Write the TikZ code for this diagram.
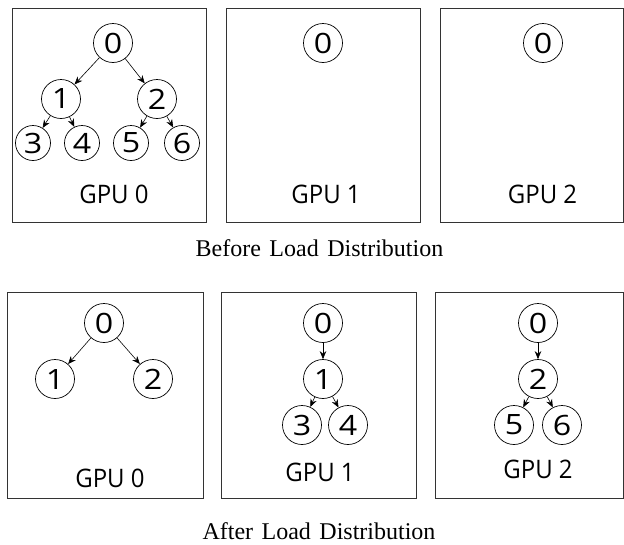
\documentclass[tikz,border=0pt]{standalone}
\usepackage{fontspec}
\setmainfont{Liberation Serif}
\newfontfamily\gpulabfont[FakeStretch=0.94]{Open Sans}
\newfontfamily\digfont[FakeStretch=1.15]{Open Sans}
\usetikzlibrary{arrows.meta}
\newcommand{\capgap}{\hspace{8.5pt}}
\begin{document}
\begin{tikzpicture}[x=1pt,y=-1pt,
  gpubox/.style={draw=black!80,line width=0.9pt},
  tnode/.style={draw,circle,inner sep=0pt,minimum size=39pt,line width=0.7pt,font=\digfont\fontsize{28}{28}\selectfont},
  leaf/.style={tnode,minimum size=35pt},
  gpulabel/.style={anchor=base,inner sep=0pt,font=\gpulabfont\fontsize{25.5}{25.5}\selectfont},
  caption/.style={anchor=base,inner sep=0pt,font=\fontsize{24}{24}\selectfont},
  edge/.style={-{Stealth[length=8pt,width=6.5pt]},line width=0.6pt}]
\useasboundingbox (0,0) rectangle (624,544);
% ---- before ----
\draw[gpubox] (12,8.5) rectangle (206,222.5);
\draw[gpubox] (226,8.5) rectangle (420.5,222.5);
\draw[gpubox] (440.5,8.5) rectangle (623.5,222.5);
\node[tnode] (a0) at (113,43) {0};
\node[tnode] (a1) at (61,99) {1};
\node[tnode] (a2) at (157,99) {2};
\node[leaf] (a3) at (33,143) {3};
\node[leaf] (a4) at (82,143) {4};
\node[leaf] (a5) at (131,143) {5};
\node[leaf] (a6) at (182,143) {6};
\draw[edge] (a0) -- (a1);
\draw[edge] (a0) -- (a2);
\draw[edge] (a1) -- (a3);
\draw[edge] (a1) -- (a4);
\draw[edge] (a2) -- (a5);
\draw[edge] (a2) -- (a6);
\node[gpulabel] (ga) at (114,203) {GPU 0};
\node[tnode] (b0) at (323,43) {0};
\node[gpulabel] (gb) at (326,203) {GPU 1};
\node[tnode] (c0) at (543,43) {0};
\node[gpulabel] (gc) at (542.5,203) {GPU 2};
\node[caption] (cap1) at (319.5,256.7) {Before\capgap Load\capgap Distribution};
% ---- after ----
\draw[gpubox] (7.5,292.7) rectangle (203,498);
\draw[gpubox] (221.7,292.7) rectangle (416,498);
\draw[gpubox] (435,292.7) rectangle (623.5,498);
\node[tnode] (d0) at (104,323) {0};
\node[tnode] (d1) at (55,379) {1};
\node[tnode] (d2) at (153,379) {2};
\draw[edge] (d0) -- (d1);
\draw[edge] (d0) -- (d2);
\node[gpulabel] (gd) at (110,487.5) {GPU 0};
\node[tnode] (e0) at (323,323) {0};
\node[tnode] (e1) at (323,379) {1};
\node[tnode] (e3) at (302,425) {3};
\node[tnode] (e4) at (348,425) {4};
\draw[edge] (e0) -- (e1);
\draw[edge] (e1) -- (e3);
\draw[edge] (e1) -- (e4);
\node[gpulabel] (ge) at (320,481.5) {GPU 1};
\node[tnode] (f0) at (538,323) {0};
\node[tnode] (f2) at (538,379) {2};
\node[tnode] (f5) at (514,425) {5};
\node[tnode] (f6) at (562,425) {6};
\draw[edge] (f0) -- (f2);
\draw[edge] (f2) -- (f5);
\draw[edge] (f2) -- (f6);
\node[gpulabel] (gf) at (538,478.5) {GPU 2};
\node[caption] (cap2) at (319,539.3) {After\capgap Load\capgap Distribution};
\end{tikzpicture}
\end{document}
